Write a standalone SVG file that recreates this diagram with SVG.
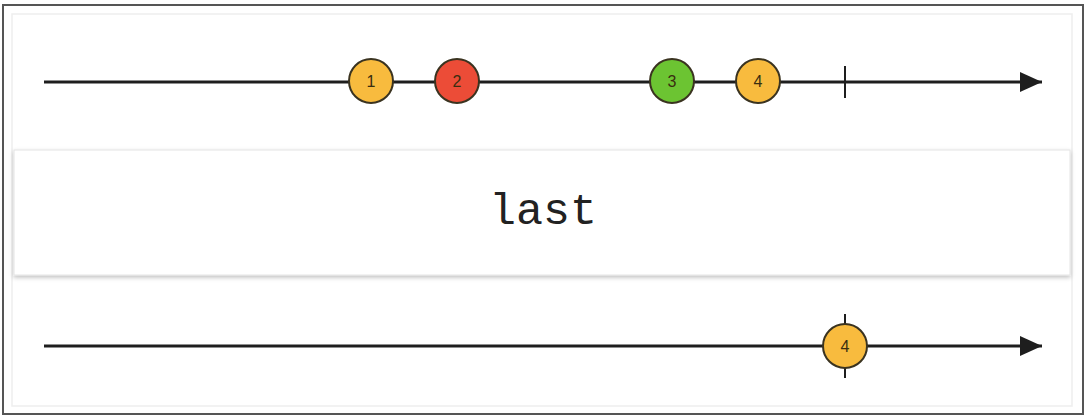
<svg xmlns="http://www.w3.org/2000/svg" width="1088" height="418" viewBox="0 0 1088 418">
<style>
.line{stroke:#1e1e1e;stroke-width:3;fill:none}
.tick{stroke:#1e1e1e;stroke-width:2}
.m{stroke:#3a3320;stroke-width:2}
.y{fill:#f8bb3e}.r{fill:#ec4c37}.g{fill:#6cc432}
.lbl{font-family:"Liberation Sans",Arial,sans-serif;font-size:16px;fill:#3a2e10;text-anchor:middle}
.op{font-family:"Liberation Mono","Courier New",monospace;font-size:45px;fill:#222;text-anchor:middle}
</style>
<defs>
<marker id="ah" viewBox="0 0 22 20" refX="22" refY="10" markerWidth="22" markerHeight="20" markerUnits="userSpaceOnUse" orient="auto">
<path d="M0,0 L22,10 L0,20 Z" fill="#1e1e1e"/>
</marker>
<filter id="sh" x="-5%" y="-20%" width="110%" height="140%">
<feDropShadow dx="0" dy="2" stdDeviation="2" flood-color="#000" flood-opacity="0.25"/>
</filter>
</defs>
<rect x="0" y="0" width="1088" height="418" fill="#fff"/>
<rect x="3" y="5" width="1080" height="409" fill="#fff" stroke="#555" stroke-width="2"/>
<rect x="12" y="14" width="1060" height="392" fill="none" stroke="#eee" stroke-width="1.5"/>
<g id="connectors">
<line class="line" x1="44" y1="82" x2="1042" y2="82" marker-end="url(#ah)"/>
<line class="line" x1="44" y1="346" x2="1042" y2="346" marker-end="url(#ah)"/>
<line class="tick" x1="845" y1="66" x2="845" y2="98"/>
<line class="tick" x1="845" y1="314" x2="845" y2="378"/>
</g>
<g id="m1"><circle class="m y" cx="371" cy="81" r="22"/><text class="lbl" x="371" y="87">1</text></g>
<g id="m2"><circle class="m r" cx="457" cy="81" r="22"/><text class="lbl" x="457" y="87">2</text></g>
<g id="m3"><circle class="m g" cx="672" cy="81" r="22"/><text class="lbl" x="672" y="87">3</text></g>
<g id="m4"><circle class="m y" cx="758" cy="81" r="22"/><text class="lbl" x="758" y="87">4</text></g>
<g id="op"><rect x="14" y="150" width="1056" height="125" fill="#fff" stroke="#e4e4e4" stroke-width="1" filter="url(#sh)"/><text class="op" x="543" y="224">last</text></g>
<g id="out4"><circle class="m y" cx="845" cy="346" r="22"/><text class="lbl" x="845" y="352">4</text></g>
</svg>
